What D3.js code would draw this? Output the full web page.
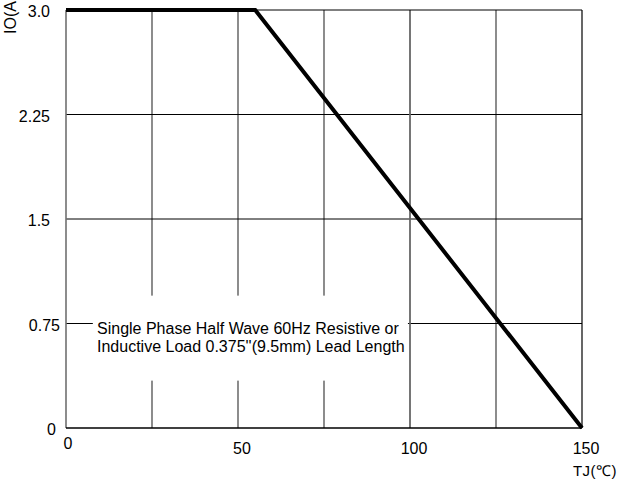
<!doctype html>
<html>
<head>
  <meta charset="utf-8">
  <script src="https://cdnjs.cloudflare.com/ajax/libs/d3/7.8.5/d3.min.js"></script>
  <style>
    body { margin: 0; background: #fff; }
    svg { display: block; }
    text { font-family: "Liberation Sans", Arial, sans-serif; fill: #000; }
  </style>
</head>
<body>
  <svg id="chart" width="618" height="480"></svg>
  <script>
    // derating curve: junction temperature (C) vs average forward current (A)
    const tjValues = [0, 55, 150]
    const ioValues = [3.0, 3.0, 0]

    const xTicks = [0, 50, 100, 150]
    const xTickLabels = ["0", "50", "100", "150"]
    const yTicks = [0, 0.75, 1.5, 2.25, 3.0]
    const yTickLabels = ["0", "0.75", "1.5", "2.25", "3.0"]
    const xGrid = [25, 50, 75, 100, 125]
    const yGrid = [0.75, 1.5, 2.25]

    const noteLines = [
      "Single Phase Half Wave 60Hz Resistive or",
      "Inductive Load 0.375''(9.5mm) Lead Length"
    ]
    // area of the plot kept clear for the note, in data units
    const noteArea = { x0: 7.8, x1: 99.4, y0: 0.34, y1: 0.95 }

    var svg = d3.select("#chart")
    var x = d3.scaleLinear().domain([0, 150]).range([66, 582])
    var y = d3.scaleLinear().domain([0, 3]).range([428, 10])

    // grid
    svg.selectAll(".vgrid").data(xGrid).enter().append("line")
      .attr("class", "vgrid")
      .attr("x1", d => x(d)).attr("x2", d => x(d))
      .attr("y1", y(3)).attr("y2", y(0))
      .style("stroke", "#707070").style("stroke-width", "1.6px")

    svg.selectAll(".hgrid").data(yGrid).enter().append("line")
      .attr("class", "hgrid")
      .attr("x1", x(0)).attr("x2", x(150))
      .attr("y1", d => y(d)).attr("y2", d => y(d))
      .style("stroke", "#000").style("stroke-width", "1px")

    // white patch behind the note (the vertical line at 100 stays)
    svg.append("rect")
      .attr("x", x(noteArea.x0)).attr("width", x(noteArea.x1) - x(noteArea.x0))
      .attr("y", y(noteArea.y1)).attr("height", y(noteArea.y0) - y(noteArea.y1))
      .style("fill", "#fff")
    svg.append("line")
      .attr("x1", x(100)).attr("x2", x(100))
      .attr("y1", y(3)).attr("y2", y(0))
      .style("stroke", "#707070").style("stroke-width", "1.6px")

    // frame
    svg.append("line").attr("x1", x(0)).attr("x2", x(0)).attr("y1", y(3)).attr("y2", y(0))
      .style("stroke", "#707070").style("stroke-width", "1.6px")
    svg.append("line").attr("x1", x(150)).attr("x2", x(150)).attr("y1", y(3)).attr("y2", y(0))
      .style("stroke", "#000").style("stroke-width", "1.2px")
    svg.append("line").attr("x1", x(0)).attr("x2", x(150)).attr("y1", y(3)).attr("y2", y(3))
      .style("stroke", "#000").style("stroke-width", "1px")
    svg.append("line").attr("x1", x(0)).attr("x2", x(150)).attr("y1", y(0)).attr("y2", y(0))
      .style("stroke", "#000").style("stroke-width", "1.5px")

    // curve
    var pts = tjValues.map((t, i) => [t, ioValues[i]])
    svg.append("path")
      .attr("d", d3.line().x(d => x(d[0])).y(d => y(d[1]))(pts))
      .style("fill", "none").style("stroke", "#000").style("stroke-width", "4px")

    // tick labels
    svg.selectAll(".ylab").data(yTicks).enter().append("text")
      .attr("class", "ylab")
      .attr("x", (d, i) => d === 0.75 ? 60 : (d === 0 ? 56 : 50))
      .attr("y", d => y(d) + 7)
      .attr("text-anchor", "end")
      .style("font-size", "16px")
      .text((d, i) => yTickLabels[i])

    svg.selectAll(".xlab").data(xTicks).enter().append("text")
      .attr("class", "xlab")
      .attr("x", d => x(d) + (d === 0 ? 2 : 4))
      .attr("y", d => d === 0 ? 449 : 454)
      .attr("text-anchor", "middle")
      .style("font-size", "16px")
      .text((d, i) => xTickLabels[i])

    // axis titles (the y title reads "IO(A" in the source, its bracket lost at the top edge)
    svg.append("text")
      .attr("transform", "translate(16,34) rotate(-90)")
      .style("font-size", "16px")
      .text("IO(A")

    svg.append("text")
      .attr("x", 595).attr("y", 476)
      .attr("text-anchor", "middle")
      .style("font-size", "15px")
      .style("letter-spacing", "0.5px")
      .text("TJ(\u2103)")

    // note
    svg.selectAll(".note").data(noteLines).enter().append("text")
      .attr("class", "note")
      .attr("x", 97)
      .attr("y", (d, i) => 334 + i * 18)
      .style("font-size", "16px")
      .text(d => d)
  </script>
</body>
</html>
